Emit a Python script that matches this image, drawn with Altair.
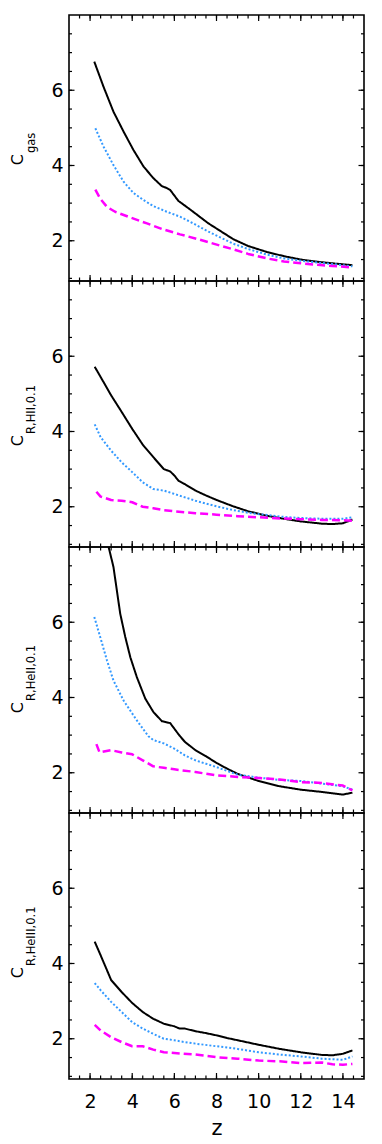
import altair as alt
import pandas as pd

FONT = "DejaVu Sans"

# ---- series definitions ----
SERIES = ["solid", "dotted", "dashed"]
COLORS = {"solid": "#000000", "dotted": "#3399ff", "dashed": "#ff00ff"}
DASHES = {"solid": [1, 0], "dotted": [2, 2], "dashed": [8, 4]}
WIDTHS = {"solid": 2.0, "dotted": 2.0, "dashed": 2.5}

# ---- axis ticks / labels ----
X_LABELS = [2, 4, 6, 8, 10, 12, 14]
X_MINOR = [1.5, 2, 2.5, 3, 3.5, 4, 4.5, 5, 5.5, 6, 6.5, 7, 7.5, 8, 8.5, 9, 9.5,
           10, 10.5, 11, 11.5, 12, 12.5, 13, 13.5, 14, 14.5]
Y_LABELS = [2, 4, 6]
Y_MINOR = [1, 1.5, 2, 2.5, 3, 3.5, 4, 4.5, 5, 5.5, 6, 6.5, 7, 7.5]
X_DOMAIN = [1, 15]
Y_DOMAIN = [0.93, 8]

# ---- panel titles ----
TITLE_MAIN = ["C", "C", "C", "C"]
TITLE_SUB = ["gas", "R,HII,0.1", "R,HeII,0.1", "R,HeIII,0.1"]

# ---- Panel 1 : C_gas ----
P1_Z_SOLID = [2.2, 2.64, 3.11, 3.59, 4.06, 4.54, 5.01, 5.41, 5.6, 5.8, 6.19, 6.75, 7.62, 8.8, 9.5, 10.4, 11.2, 12.0, 12.8, 13.5, 14.45]
P1_C_SOLID = [6.76, 6.09, 5.43, 4.90, 4.41, 3.97, 3.66, 3.45, 3.41, 3.35, 3.06, 2.83, 2.46, 2.04, 1.86, 1.70, 1.59, 1.50, 1.44, 1.40, 1.35]
P1_Z_DOTTED = [2.25, 2.64, 3.11, 3.59, 4.06, 4.54, 5.01, 5.64, 6.27, 6.9, 7.62, 8.8, 9.5, 10.4, 11.2, 12.0, 12.8, 13.5, 14.45]
P1_C_DOTTED = [4.99, 4.50, 4.01, 3.57, 3.27, 3.08, 2.92, 2.77, 2.64, 2.46, 2.24, 1.92, 1.78, 1.63, 1.53, 1.47, 1.42, 1.38, 1.32]
P1_Z_DASHED = [2.25, 2.48, 2.8, 3.19, 3.9, 4.7, 5.48, 6.27, 7.07, 8.8, 9.5, 10.4, 11.2, 12.0, 12.8, 13.5, 14.45]
P1_C_DASHED = [3.36, 3.12, 2.90, 2.77, 2.62, 2.46, 2.30, 2.17, 2.05, 1.77, 1.65, 1.53, 1.45, 1.40, 1.36, 1.33, 1.29]

# ---- Panel 2 : C_R,HII,0.1 ----
P2_Z_SOLID = [2.22, 2.5, 3.0, 3.5, 4.0, 4.5, 5.0, 5.5, 5.8, 6.0, 6.2, 6.5, 7.0, 7.5, 8.0, 8.8, 9.5, 10.4, 11.2, 12.0, 13.0, 13.5, 14.0, 14.45]
P2_C_SOLID = [5.72, 5.45, 4.96, 4.52, 4.07, 3.65, 3.32, 3.00, 2.94, 2.83, 2.69, 2.60, 2.43, 2.30, 2.18, 2.01, 1.88, 1.76, 1.68, 1.61, 1.55, 1.54, 1.56, 1.66]
P2_Z_DOTTED = [2.22, 2.5, 3.0, 3.5, 4.0, 4.5, 5.0, 5.5, 6.0, 6.5, 7.0, 8.0, 8.8, 9.5, 10.4, 11.2, 12.0, 13.0, 14.0, 14.45]
P2_C_DOTTED = [4.19, 3.85, 3.49, 3.18, 2.92, 2.65, 2.47, 2.43, 2.34, 2.25, 2.16, 2.01, 1.91, 1.84, 1.78, 1.73, 1.70, 1.68, 1.68, 1.72]
P2_Z_DASHED = [2.3, 2.5, 3.0, 3.5, 4.0, 4.5, 5.0, 5.5, 6.0, 7.0, 8.0, 9.0, 10.0, 11.0, 12.0, 13.0, 14.0, 14.45]
P2_C_DASHED = [2.40, 2.27, 2.18, 2.16, 2.12, 2.00, 1.96, 1.91, 1.88, 1.83, 1.79, 1.75, 1.72, 1.69, 1.67, 1.65, 1.64, 1.63]

# ---- Panel 3 : C_R,HeII,0.1 ----
P3_Z_SOLID = [2.22, 2.88, 3.11, 3.27, 3.43, 3.67, 3.91, 4.22, 4.62, 5.01, 5.41, 5.8, 6.24, 6.5, 7.0, 7.5, 8.0, 8.5, 9.0, 10.0, 11.0, 12.0, 13.0, 14.0, 14.45]
P3_C_SOLID = [9.6, 8.0, 7.47, 6.85, 6.23, 5.61, 5.07, 4.54, 3.97, 3.61, 3.37, 3.32, 2.99, 2.82, 2.60, 2.44, 2.26, 2.11, 1.97, 1.78, 1.64, 1.55, 1.49, 1.42, 1.47]
P3_Z_DOTTED = [2.2, 2.48, 2.8, 3.11, 3.59, 4.22, 4.77, 5.0, 5.5, 6.0, 6.5, 7.0, 7.5, 8.0, 9.0, 10.0, 11.0, 12.0, 13.0, 14.0, 14.45]
P3_C_DOTTED = [6.14, 5.61, 4.99, 4.45, 3.92, 3.39, 2.97, 2.87, 2.78, 2.64, 2.46, 2.33, 2.24, 2.15, 1.95, 1.87, 1.81, 1.78, 1.71, 1.64, 1.55]
P3_Z_DASHED = [2.3, 2.45, 3.0, 3.5, 4.0, 4.5, 5.0, 5.5, 6.0, 7.0, 8.0, 9.0, 10.0, 11.0, 12.0, 13.0, 14.0, 14.45]
P3_C_DASHED = [2.76, 2.54, 2.60, 2.54, 2.49, 2.33, 2.17, 2.13, 2.09, 2.02, 1.93, 1.89, 1.86, 1.82, 1.75, 1.73, 1.66, 1.53]

# ---- Panel 4 : C_R,HeIII,0.1 ----
P4_Z_SOLID = [2.22, 2.5, 3.0, 3.5, 4.0, 4.5, 5.0, 5.5, 6.0, 6.25, 6.5, 7.0, 7.5, 8.0, 8.5, 9.0, 10.0, 11.0, 12.0, 13.0, 13.5, 14.0, 14.45]
P4_C_SOLID = [4.58, 4.22, 3.56, 3.24, 2.95, 2.71, 2.53, 2.40, 2.33, 2.27, 2.27, 2.20, 2.15, 2.09, 2.02, 1.96, 1.84, 1.73, 1.64, 1.57, 1.56, 1.60, 1.69]
P4_Z_DOTTED = [2.22, 2.5, 3.0, 3.5, 4.0, 4.5, 5.0, 5.5, 6.0, 6.5, 7.0, 8.0, 9.0, 10.0, 11.0, 12.0, 13.0, 14.0, 14.45]
P4_C_DOTTED = [3.48, 3.29, 2.98, 2.71, 2.44, 2.27, 2.13, 2.00, 1.96, 1.91, 1.87, 1.80, 1.73, 1.64, 1.58, 1.53, 1.47, 1.44, 1.53]
P4_Z_DASHED = [2.22, 2.5, 3.0, 3.5, 4.0, 4.5, 5.0, 5.5, 6.0, 7.0, 8.0, 9.0, 10.0, 11.0, 12.0, 13.0, 13.5, 14.0, 14.45]
P4_C_DASHED = [2.37, 2.22, 2.04, 1.91, 1.80, 1.80, 1.71, 1.64, 1.62, 1.58, 1.51, 1.47, 1.42, 1.40, 1.35, 1.37, 1.32, 1.31, 1.33]

PANELS = [
    {"solid": (P1_Z_SOLID, P1_C_SOLID), "dotted": (P1_Z_DOTTED, P1_C_DOTTED), "dashed": (P1_Z_DASHED, P1_C_DASHED)},
    {"solid": (P2_Z_SOLID, P2_C_SOLID), "dotted": (P2_Z_DOTTED, P2_C_DOTTED), "dashed": (P2_Z_DASHED, P2_C_DASHED)},
    {"solid": (P3_Z_SOLID, P3_C_SOLID), "dotted": (P3_Z_DOTTED, P3_C_DOTTED), "dashed": (P3_Z_DASHED, P3_C_DASHED)},
    {"solid": (P4_Z_SOLID, P4_C_SOLID), "dotted": (P4_Z_DOTTED, P4_C_DOTTED), "dashed": (P4_Z_DASHED, P4_C_DASHED)},
]

W = 295
H = 266
TITLE_JUNCTION = [139, 154, 155, 154]
MAJ_X, MIN_X = 6, 3.5
MAJ_Y, MIN_Y = 5.5, 3
TICK_W = 1.2

xs = alt.Scale(domain=X_DOMAIN, nice=False, zero=False)
ys = alt.Scale(domain=Y_DOMAIN, nice=False, zero=False)


def make_panel(i, show_x):
    if show_x:
        xaxis = alt.Axis(values=X_LABELS, ticks=False, tickSize=0, domain=False, grid=False,
                         labelPadding=13, labelFontSize=19, labelFont=FONT, labelColor="black",
                         title="z", titleFont=FONT, titleFontSize=21, titleFontWeight="normal",
                         titlePadding=6, titleColor="black")
    else:
        xaxis = None
    yaxis = alt.Axis(values=Y_LABELS, ticks=False, tickSize=0, domain=False, grid=False,
                     labelPadding=6, labelFontSize=19, labelFont=FONT, labelColor="black",
                     title=None)

    def X(field):
        return alt.X(field, scale=xs, axis=xaxis)

    def Y(field):
        return alt.Y(field, scale=ys, axis=yaxis)

    layers = []
    for s in SERIES:
        zv, cv = PANELS[i][s]
        df = pd.DataFrame({"z": zv, "c": cv})
        layers.append(
            alt.Chart(df).mark_line(clip=True, color=COLORS[s], strokeDash=DASHES[s],
                                    strokeWidth=WIDTHS[s], strokeCap="butt", strokeJoin="round")
            .encode(x=X("z:Q"), y=Y("c:Q"))
        )

    xmin = pd.DataFrame({"z": X_MINOR})
    xmaj = pd.DataFrame({"z": X_LABELS})
    ymin = pd.DataFrame({"c": Y_MINOR})
    ymaj = pd.DataFrame({"c": Y_LABELS})

    def xt(d, L, top):
        if top:
            yy, yy2 = alt.value(0), alt.value(L)
        else:
            yy, yy2 = alt.value(H), alt.value(H - L)
        return alt.Chart(d).mark_rule(color="black", strokeWidth=TICK_W).encode(
            x=X("z:Q"), y=yy, y2=yy2)

    def yt(d, L, right):
        if right:
            xx, xx2 = alt.value(W), alt.value(W - L)
        else:
            xx, xx2 = alt.value(0), alt.value(L)
        return alt.Chart(d).mark_rule(color="black", strokeWidth=TICK_W).encode(
            y=Y("c:Q"), x=xx, x2=xx2)

    layers += [xt(xmin, MIN_X, True), xt(xmin, MIN_X, False),
               xt(xmaj, MAJ_X, True), xt(xmaj, MAJ_X, False),
               yt(ymin, MIN_Y, True), yt(ymin, MIN_Y, False),
               yt(ymaj, MAJ_Y, True), yt(ymaj, MAJ_Y, False)]

    main = alt.Chart(pd.DataFrame({"t": [TITLE_MAIN[i]]})).mark_text(
        angle=270, align="right", baseline="alphabetic", fontSize=16, font=FONT, color="black"
    ).encode(text="t:N", x=alt.value(-46.5), y=alt.value(TITLE_JUNCTION[i]))
    sub = alt.Chart(pd.DataFrame({"t": [TITLE_SUB[i]]})).mark_text(
        angle=270, align="left", baseline="alphabetic", fontSize=11.5, font=FONT, color="black"
    ).encode(text="t:N", x=alt.value(-34.5), y=alt.value(TITLE_JUNCTION[i] - 1))
    layers += [main, sub]

    return alt.layer(*layers).properties(width=W, height=H)


panels = [make_panel(i, i == 3) for i in range(4)]

chart = alt.vconcat(*panels, spacing=0, bounds="flush").properties(
    padding={"left": 0, "top": 5, "right": 5, "bottom": 5}
).configure_view(stroke="black", strokeWidth=1.6)

chart.save("out.html", embed_options={"renderer": "svg", "actions": False})
